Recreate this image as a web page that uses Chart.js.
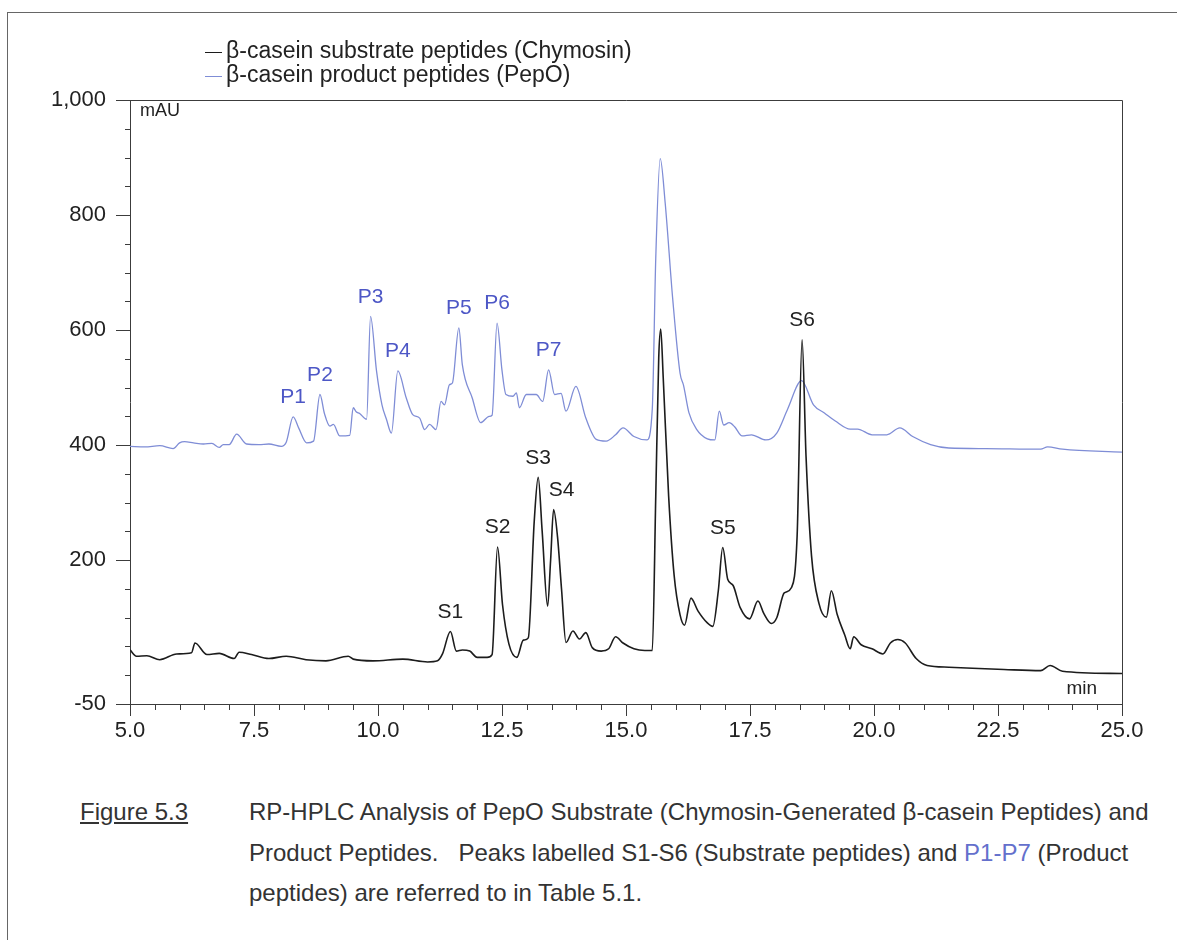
<!DOCTYPE html>
<html>
<head>
<meta charset="utf-8">
<script src="https://cdn.jsdelivr.net/npm/chart.js@4.4.1/dist/chart.umd.min.js"></script>
<style>
  body { margin: 0; background: #fff; font-family: "Liberation Sans", Arial, sans-serif; }
  #page { position: relative; width: 1177px; height: 940px; overflow: hidden; }
  #frame { position: absolute; left: 7px; top: 12px; width: 1200px; height: 960px; border: 1px solid #666; }
  #chart { position: absolute; left: 0; top: 0; }
  .cap { position: absolute; color: #333; font-size: 24px; line-height: 40.5px; white-space: nowrap; }
  .blue { color: #6470cc; }
</style>
</head>
<body>
<div id="page">
  <div id="frame"></div>
  <canvas id="chart" width="1177" height="760"></canvas>
  <div class="cap" style="left:80px; top:792px;"><u>Figure 5.3</u></div>
  <div class="cap" style="left:249px; top:792px;">
    RP-HPLC Analysis of PepO Substrate (Chymosin-Generated &beta;-casein Peptides) and<br>
    Product Peptides.&nbsp;&nbsp; Peaks labelled S1-S6 (Substrate peptides) and <span class="blue">P1-P7</span> (Product<br>
    peptides) are referred to in Table 5.1.
  </div>
</div>
<script>
// retention time (min) and absorbance (mAU) of the two traces
const substrateTime = [5.0, 5.13, 5.34, 5.6, 5.94, 6.24, 6.31, 6.55, 6.8, 7.1, 7.2, 7.45, 7.8, 8.15, 8.55, 8.95, 9.4, 9.5, 9.9, 10.5, 11.0, 11.2, 11.3, 11.46, 11.58, 11.7, 11.85, 12.0, 12.2, 12.3, 12.41, 12.51, 12.64, 12.8, 12.93, 13.03, 13.15, 13.23, 13.31, 13.42, 13.48, 13.54, 13.62, 13.7, 13.79, 13.93, 14.06, 14.19, 14.32, 14.5, 14.65, 14.79, 14.94, 15.16, 15.38, 15.53, 15.6, 15.66, 15.7, 15.75, 15.86, 15.97, 16.09, 16.18, 16.31, 16.45, 16.64, 16.75, 16.86, 16.95, 17.05, 17.16, 17.3, 17.49, 17.66, 17.78, 17.93, 18.04, 18.19, 18.34, 18.45, 18.55, 18.63, 18.74, 18.89, 19.04, 19.14, 19.26, 19.41, 19.52, 19.59, 19.74, 19.96, 20.18, 20.33, 20.48, 20.63, 20.85, 21.07, 21.51, 22.62, 23.36, 23.55, 23.8, 25.0];
const substrateMAU = [44, 33, 34, 27, 37, 39, 56, 36, 38, 29, 40, 36, 29, 33, 27, 25, 33, 28, 25, 28, 23, 25, 37, 76, 42, 44, 42, 31, 31, 36, 223, 123, 54, 31, 61, 65, 268, 344, 250, 120, 200, 288, 240, 150, 57, 77, 63, 74, 48, 42, 46, 67, 56, 46, 43, 43, 311, 552, 602, 518, 311, 174, 105, 87, 134, 112, 91, 85, 146, 222, 167, 156, 118, 98, 129, 107, 90, 100, 143, 153, 242, 583, 380, 208, 125, 101, 147, 105, 70, 46, 67, 53, 46, 37, 56, 62, 56, 29, 17, 14, 10, 8, 17, 7, 3];

const productTime = [5.0, 5.3, 5.6, 5.87, 6.0, 6.1, 6.28, 6.48, 6.65, 6.8, 6.88, 7.0, 7.15, 7.35, 7.6, 7.8, 8.05, 8.15, 8.29, 8.4, 8.56, 8.7, 8.83, 8.92, 9.03, 9.1, 9.23, 9.43, 9.5, 9.56, 9.63, 9.77, 9.85, 9.97, 10.08, 10.17, 10.27, 10.4, 10.57, 10.7, 10.84, 10.94, 11.04, 11.17, 11.27, 11.34, 11.44, 11.5, 11.63, 11.7, 11.9, 12.07, 12.24, 12.3, 12.4, 12.5, 12.58, 12.72, 12.79, 12.85, 12.99, 13.19, 13.32, 13.44, 13.56, 13.69, 13.79, 13.99, 14.19, 14.4, 14.6, 14.79, 14.94, 15.16, 15.42, 15.53, 15.6, 15.69, 15.79, 15.94, 16.09, 16.16, 16.27, 16.42, 16.64, 16.79, 16.88, 16.97, 17.08, 17.19, 17.34, 17.53, 17.82, 18.04, 18.26, 18.54, 18.78, 19.0, 19.22, 19.52, 19.67, 19.96, 20.26, 20.52, 20.78, 21.14, 21.51, 22.25, 23.36, 23.5, 23.8, 25.0];
const productMAU = [398, 397, 399, 394, 404, 406, 404, 402, 403, 396, 401, 401, 419, 402, 401, 402, 398, 405, 449, 430, 404, 407, 488, 455, 433, 436, 416, 417, 465, 458, 455, 445, 624, 529, 470, 445, 421, 529, 482, 453, 447, 427, 436, 427, 476, 470, 505, 508, 604, 540, 482, 439, 450, 452, 612, 530, 488, 485, 491, 465, 488, 488, 476, 531, 488, 490, 459, 502, 447, 410, 407, 418, 430, 415, 409, 463, 725, 898, 821, 656, 525, 504, 456, 428, 411, 409, 459, 435, 439, 432, 416, 418, 409, 421, 463, 512, 470, 456, 442, 428, 428, 418, 418, 430, 415, 401, 395, 394, 393, 397, 393, 388];

// named peaks (retention time of each apex)
const substratePeaks = ['S1', 'S2', 'S3', 'S4', 'S5', 'S6'];
const substratePeakTimes = [11.46, 12.41, 13.23, 13.54, 16.95, 18.55];
const productPeaks = ['P1', 'P2', 'P3', 'P4', 'P5', 'P6', 'P7'];
const productPeakTimes = [8.29, 8.83, 9.85, 10.4, 11.63, 12.4, 13.44];

// axis ticks
const xMajorTicks = [5.0, 7.5, 10.0, 12.5, 15.0, 17.5, 20.0, 22.5, 25.0];
const yMajorTicks = [-50, 200, 400, 600, 800, 1000];

const BLACK = '#1c1c1c';
const BLUE = '#7f8dd6';
const LABEL_BLUE = '#4d57c6';
const AXIS = '#3c3c3c';
const FONT = '"Liberation Sans", Arial, sans-serif';

function toPoints(xs, ys) {
  return xs.map((x, i) => ({ x: x, y: ys[i] }));
}

// minor ticks, plot frame, unit captions, peak names and the legend
const decorations = {
  id: 'decorations',
  afterDraw(chart) {
    const ctx = chart.ctx;
    const area = chart.chartArea;
    const xs = chart.scales.x;
    const ys = chart.scales.y;
    ctx.save();
    ctx.strokeStyle = AXIS;
    ctx.lineWidth = 1;

    // box: top and right edges
    ctx.beginPath();
    ctx.moveTo(area.left, area.top + 0.5);
    ctx.lineTo(area.right + 0.5, area.top + 0.5);
    ctx.lineTo(area.right + 0.5, area.bottom);
    ctx.stroke();

    // minor ticks every 50 mAU and every 0.5 min
    ctx.beginPath();
    for (let v = -50; v <= 1000; v += 50) {
      if (yMajorTicks.includes(v)) continue;
      const py = Math.round(ys.getPixelForValue(v)) + 0.5;
      ctx.moveTo(area.left - 5, py);
      ctx.lineTo(area.left, py);
    }
    for (let t = 5; t <= 25.001; t += 0.5) {
      if (xMajorTicks.some(m => Math.abs(m - t) < 1e-6)) continue;
      const px = Math.round(xs.getPixelForValue(t)) + 0.5;
      ctx.moveTo(px, area.bottom);
      ctx.lineTo(px, area.bottom + 6);
    }
    ctx.stroke();

    ctx.fillStyle = '#222';
    ctx.font = '18px ' + FONT;
    ctx.textBaseline = 'middle';
    ctx.textAlign = 'left';
    ctx.fillText('mAU', area.left + 10, area.top + 11);
    ctx.textAlign = 'right';
    ctx.font = '19px ' + FONT;
    ctx.fillText('min', area.right - 25, area.bottom - 15);

    // peak names above each apex
    const drawPeaks = (dsIndex, names, times, color) => {
      const meta = chart.getDatasetMeta(dsIndex);
      const pts = chart.data.datasets[dsIndex].data;
      ctx.fillStyle = color;
      ctx.font = '21px ' + FONT;
      ctx.textAlign = 'center';
      ctx.textBaseline = 'bottom';
      names.forEach((name, k) => {
        let best = 0;
        pts.forEach((p, i) => {
          if (Math.abs(p.x - times[k]) < Math.abs(pts[best].x - times[k])) best = i;
        });
        const el = meta.data[best];
        const shift = name === 'S4' ? 8 : 0;
        ctx.fillText(name, el.x + shift, el.y - 9);
      });
    };
    drawPeaks(0, substratePeaks, substratePeakTimes, '#222');
    drawPeaks(1, productPeaks, productPeakTimes, LABEL_BLUE);

    // legend
    ctx.font = '23px ' + FONT;
    ctx.textAlign = 'left';
    ctx.textBaseline = 'middle';
    chart.data.datasets.forEach((ds, i) => {
      const ly = 52 + i * 24;
      ctx.strokeStyle = ds.borderColor;
      ctx.lineWidth = 1;
      ctx.beginPath();
      ctx.moveTo(205, ly + 0.5);
      ctx.lineTo(222, ly + 0.5);
      ctx.stroke();
      ctx.fillStyle = '#222';
      ctx.fillText(ds.label, 226, ly);
    });
    ctx.restore();
  }
};

const ctx = document.getElementById('chart').getContext('2d');
new Chart(ctx, {
  type: 'line',
  data: {
    datasets: [
      {
        label: '\u03B2-casein substrate peptides (Chymosin)',
        data: toPoints(substrateTime, substrateMAU),
        borderColor: BLACK,
        borderWidth: 1.6,
        pointRadius: 0,
        cubicInterpolationMode: 'monotone',
        fill: false
      },
      {
        label: '\u03B2-casein product peptides (PepO)',
        data: toPoints(productTime, productMAU),
        borderColor: BLUE,
        borderWidth: 1.3,
        pointRadius: 0,
        cubicInterpolationMode: 'monotone',
        fill: false
      }
    ]
  },
  options: {
    responsive: false,
    animation: false,
    layout: { padding: { top: 100, right: 55, left: 0, bottom: 0 } },
    plugins: { legend: { display: false }, tooltip: { enabled: false } },
    scales: {
      x: {
        type: 'linear',
        min: 5,
        max: 25,
        afterBuildTicks: s => { s.ticks = xMajorTicks.map(v => ({ value: v })); },
        afterFit: s => { s.height = 56; },
        ticks: {
          callback: v => Number(v).toFixed(1),
          color: '#222',
          font: { family: FONT, size: 22 },
          padding: 2,
          maxRotation: 0
        },
        grid: { drawOnChartArea: false, tickLength: 12, color: AXIS },
        border: { color: AXIS, width: 1 }
      },
      y: {
        type: 'linear',
        min: -50,
        max: 1000,
        afterBuildTicks: s => { s.ticks = yMajorTicks.map(v => ({ value: v })); },
        afterFit: s => { s.width = 130; },
        ticks: {
          callback: v => Number(v).toLocaleString('en-US'),
          color: '#222',
          font: { family: FONT, size: 22 },
          padding: 10
        },
        grid: { drawOnChartArea: false, tickLength: 14, color: AXIS },
        border: { color: AXIS, width: 1 }
      }
    }
  },
  plugins: [decorations]
});
</script>
</body>
</html>
